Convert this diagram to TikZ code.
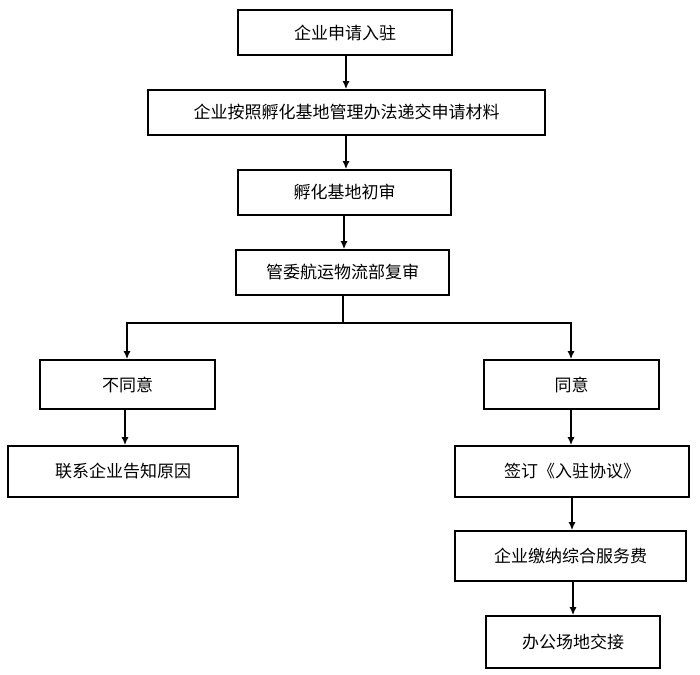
\documentclass[tikz,border=0pt]{standalone}
\usepackage{fontspec}
\setmainfont{Noto Sans CJK SC}
\usetikzlibrary{arrows.meta}
\begin{document}
\begin{tikzpicture}[x=1pt,y=-1pt,
  box/.style={draw,line width=1.6pt,inner sep=0pt,font=\fontsize{17}{20}\selectfont},
  arr/.style={line width=1.6pt,-{Latex[length=8pt,width=7pt]}}]
\useasboundingbox (0,0) rectangle (700,674);
\newcommand\bx[6]{\node[box,minimum width=#4-#2,minimum height=#5-#3] (#1) at ({(#2+#4)/2},{(#3+#5)/2}) {#6};}
\bx{a}{238}{10}{452}{55}{企业申请入驻}
\bx{b}{148}{90}{545}{135}{企业按照孵化基地管理办法递交申请材料}
\bx{c}{238}{170}{451}{215}{孵化基地初审}
\bx{d}{236}{250}{449}{295}{管委航运物流部复审}
\bx{e}{40}{360}{215}{409}{不同意}
\bx{f}{484}{360}{659}{409}{同意}
\bx{g}{8}{446}{238}{497}{联系企业告知原因}
\bx{h}{455}{446}{689}{497}{签订《入驻协议》}
\bx{i}{455}{531}{686}{581}{企业缴纳综合服务费}
\bx{j}{486}{616}{660}{668}{办公场地交接}
\draw[arr] (a.south -| 346,0) -- (b.north -| 346,0);
\draw[arr] (b.south -| 346,0) -- (c.north -| 346,0);
\draw[arr] (c.south -| 344,0) -- (d.north -| 344,0);
\coordinate (s) at (343,323);
\draw[line width=1.6pt] (d.south -| 343,0) -- (s);
\draw[arr] (s) -| (e.north -| 127,0);
\draw[arr] (s) -| (f.north -| 571,0);
\draw[arr] (e.south -| 125,0) -- (g.north -| 125,0);
\draw[arr] (f.south -| 571,0) -- (h.north -| 571,0);
\draw[arr] (h.south -| 572,0) -- (i.north -| 572,0);
\draw[arr] (i.south -| 573,0) -- (j.north -| 573,0);
\end{tikzpicture}
\end{document}
